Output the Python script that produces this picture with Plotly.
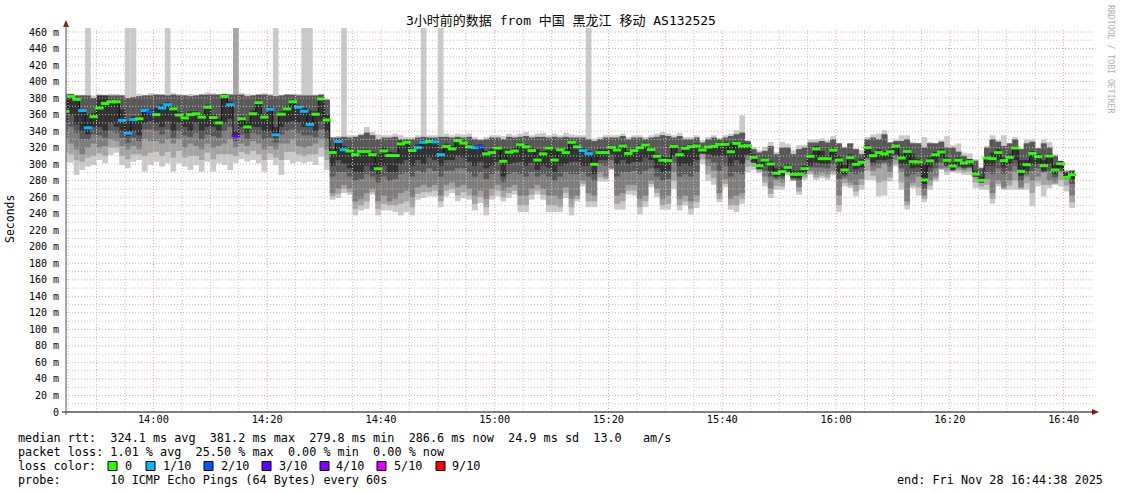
import numpy as np
import pandas as pd
import plotly.graph_objects as go

# ---------------- data (ms), one sample per minute starting 13:44 ----------------
median = [364,382,378.5,365,344,357.5,368,373.5,375.5,375.5,353,337.5,354,355,365,363,360,368,372,367,
          359.5,356,360,361,357,369,356.5,350,382,372,334.5,355,345,361,374.5,357,366.5,335.5,360.5,367,
          375.5,369,364,348,360.5,379,353.5,314,327.5,317.5,316,311.5,315.5,315.5,311.5,294.5,316,310.5,310.5,324.5,
          326.5,316.5,320,326.5,327.5,327,311.5,321.5,318.5,328.5,325.5,321,320,321,312.5,314,319.5,303.5,314.5,316,
          323.5,321,316.5,305,312.5,319.5,305,317.5,314,326.5,321,316.5,312.8,299.8,314,314,320.4,317.2,322,313,
          316.4,320,323.2,317.6,309.5,304.7,304.3,321.6,311.5,319.2,321.2,322,317.2,320.8,321.6,324,324,315,325.2,322,
          322.4,308.3,298.2,305,300.2,289,291,296.2,287.7,287.7,294.6,309.5,318.4,306.7,306.7,317,305,293,307.9,299.8,
          302.3,320,310.3,314,312.5,315,322,307.5,315.5,303,302.7,281,304,311.5,314.7,304.7,297.8,304.7,301.5,303,
          288,280.5,307.5,306.7,314,304.3,308.3,319.6,291.4,299.4,313,309,298.2,309.9,293,300.6,284,287.3]

# lost pings out of 10 per sample
loss = [0,0,0,1,1,0,0,0,0,0,1,1,1,0,1,2,0,1,1,0,
        0,0,0,0,0,0,0,0,0,1,3,0,0,0,0,0,1,1,0,0,
        0,1,1,1,0,0,0,0,1,1,0,0,0,0,0,0,0,0,0,0,
        0,0,1,1,0,1,1,0,0,0,0,0,1,2,0,0,0,0,0,0,
        0,0,0,0,0,0,0,0,0,0,0,1,1,0,0,0,0,0,0,0,
        0,0,0,0,0,0,0,0,0,0,0,0,0,0,0,0,0,0,0,0,
        0,0,0,0,0,0,0,0,0,0,0,0,0,0,0,0,0,0,0,0,
        0,0,0,0,0,0,0,0,0,0,0,0,0,0,0,0,0,0,0,0,
        0,0,0,0,0,0,0,0,0,0,0,0,0,0,0,0,0,0]

# 1st / 10th ping of each sample (490 = off the top of the chart)
ping_min = [303,302,287,293,297,299,305,301,311,314,299,295,303,305,291,299,303,297,301,291,
            301,297,293,299,291,303,291,301,299,293,301,306,303,305,301,291,305,299,287,305,
            301,303,301,303,299,309,293,257,259,265,263,238,244,246,263,238,244,244,242,238,
            242,238,257,259,261,261,248,261,265,255,259,257,244,253,238,257,261,255,259,263,
            242,242,257,263,257,242,242,242,259,238,255,273,248,248,279,279,293,245,245,263,
            262,239,248,272,260,245,245,270,244,250,239,247,300,280,275,254,272,245,242,252,
            290,293,289,273,259,269,269,287,281,263,281,287,281,283,281,287,242,273,271,261,
            269,281,281,261,262,279,297,269,245,271,262,254,269,279,293,287,291,289,287,287,
            271,269,269,252,273,269,269,269,269,269,249,273,261,271,275,273,267,247]
ping_max = [386,385,384,384,490,383,385,384,385,385,384,490,490,385,384,386,385,384,490,386,
            385,384,385,384,385,387,386,385,384,385,490,386,385,384,385,386,385,490,384,385,
            384,385,490,490,384,385,378,333,334,490,335,335,337,345,339,336,335,335,337,335,
            333,333,335,490,335,335,490,337,335,337,336,337,333,331,333,335,335,334,337,335,
            337,339,335,337,338,335,337,335,338,336,335,335,490,331,333,335,335,335,337,333,
            335,335,333,335,337,339,337,335,338,333,333,335,329,333,335,332,335,337,341,359,
            329,321,317,321,327,315,327,325,317,323,323,330,330,331,329,334,325,321,325,319,
            317,333,336,337,341,327,330,335,335,327,326,333,327,325,329,334,323,325,314,313,
            306,297,322,335,329,335,325,333,319,330,330,319,330,327,312,303,293,293]

# 2nd / 9th ping
second_min = [315,312,305,303,308,310,313,310,320,320,310,306,312,312,310,314,315,310,315,308,
              316,308,310,310,305,314,306,312,312,312,310,315,312,316,312,305,313,308,305,315,
              315,312,310,312,312,320,305,261,264,270,266,246,250,255,266,246,252,250,250,252,
              255,248,264,266,266,268,255,268,270,262,266,262,252,260,248,262,268,260,265,268,
              250,250,263,268,263,250,250,248,265,248,258,276,255,255,284,282,294,252,255,268,
              268,248,255,276,265,250,252,280,250,255,246,254,306,288,283,258,276,250,250,258,
              297,297,291,278,264,274,273,289,281,267,284,289,284,286,284,289,250,277,274,267,
              275,292,286,278,280,284,300,278,250,274,272,258,274,282,294,291,291,292,290,291,
              278,273,275,258,276,270,274,280,270,277,265,279,275,275,276,281,274,254]
second_max = [384,385,383,383,383,380,383,383,383,383,383,380,381,382,383,383,384,384,383,384,
              383,383,382,383,384,384,384,384,385,384,490,384,382,383,384,384,383,382,383,384,
              384,383,383,383,383,384,378,332,332,333,332,333,335,338,335,330,332,332,333,330,
              330,330,332,333,332,332,333,333,332,333,332,333,330,329,330,332,332,330,333,332,
              333,334,332,333,333,332,333,332,333,332,332,332,330,328,330,332,332,332,334,330,
              332,332,330,332,333,335,334,332,334,330,330,332,326,330,332,330,332,334,336,338,
              328,318,314,316,322,312,320,320,312,318,320,326,326,328,326,330,325,320,325,318,
              312,330,332,330,336,326,328,328,330,325,325,320,325,325,327,320,320,315,310,306,
              304,295,320,330,327,322,325,330,318,325,327,319,325,320,310,301,291,292]

# 3rd / 8th ping
mid_lo = [330,325,318,312,320,325,320,322,330,328,322,318,322,318,330,328,328,325,330,325,
          330,320,325,322,318,325,320,322,325,330,320,325,322,328,325,318,322,318,325,325,
          330,322,320,322,325,330,318,265,270,275,270,255,258,265,270,255,262,255,258,265,
          268,260,272,275,272,275,262,275,278,272,275,270,262,268,258,270,275,268,272,275,
          262,262,270,275,270,262,262,258,272,258,262,280,265,262,290,285,295,262,265,275,
          275,258,262,280,270,258,262,290,258,262,255,262,312,298,292,265,282,258,262,265,
          305,302,294,285,270,280,278,292,280,272,288,292,288,290,288,292,262,282,278,275,
          282,305,292,295,300,290,305,290,255,278,285,262,280,285,295,295,292,295,293,295,
          285,278,282,265,280,272,280,290,272,285,280,285,290,280,278,290,282,262]
mid_hi = [384,385,383,383,383,380,383,383,383,383,383,380,381,382,383,383,384,384,383,384,
          383,383,382,383,384,384,384,384,385,384,384,384,382,383,384,384,383,382,383,384,
          384,383,383,383,383,384,378,332,332,333,332,333,335,338,335,330,332,332,333,330,
          330,330,332,333,332,332,333,333,332,333,332,333,330,329,330,332,332,330,333,332,
          333,334,332,333,333,332,333,332,333,332,332,332,330,328,330,332,332,332,334,330,
          332,332,330,332,333,335,334,332,334,330,330,332,326,330,332,330,332,334,336,338,
          328,318,314,316,322,312,320,320,312,318,320,326,326,328,326,330,325,320,325,318,
          312,330,332,330,336,326,328,328,330,325,325,320,325,325,327,320,320,315,310,306,
          304,295,320,330,327,322,325,330,318,325,327,319,325,320,310,301,291,292]

# 4th ping (lower edge of the 4th..7th band, upper edge taken as mid_hi)
fourth_min = [340,345,338,330,330,336,335,332,340,338,332,326,332,328,342,342,340,336,342,332,
              340,335,333,338,330,336,334,332,340,345,328,336,330,338,336,330,332,326,336,340,
              342,338,335,335,333,342,330,285,290,290,285,280,282,288,285,278,285,280,282,288,
              290,285,292,290,295,292,285,292,292,295,295,290,285,290,282,288,292,278,288,290,
              288,285,290,285,288,285,280,285,290,288,288,290,285,280,300,298,305,285,290,290,
              292,288,292,295,285,280,282,302,285,288,285,290,313,306,302,292,298,285,290,288,
              310,302,294,292,285,283,283,292,283,280,289,296,296,296,295,300,282,285,290,288,
              290,308,298,300,302,298,310,295,285,288,290,270,290,295,302,298,293,297,295,296,
              285,278,290,288,295,288,292,298,280,288,292,295,290,292,284,292,282,276]

# 5th / 6th ping (darkest core)
core_lo = [350,360,348,340,336,345,345,340,350,345,340,334,340,335,350,352,350,345,352,340,
           350,345,340,350,340,345,345,340,350,355,334,345,338,345,345,340,340,332,345,350,
           352,350,345,345,340,352,340,298,305,300,295,290,290,298,292,288,298,290,290,300,
           305,298,305,300,308,305,298,305,305,310,308,303,298,303,295,298,303,285,300,302,
           303,298,302,293,298,296,290,298,300,303,303,298,298,288,305,305,312,300,305,300,
           303,303,308,305,295,290,292,310,298,300,298,305,313,312,310,310,310,298,305,300,
           312,302,294,298,292,285,286,291,283,283,290,298,302,300,300,305,290,288,298,294,
           296,308,302,305,305,306,312,300,300,295,296,276,296,302,308,298,293,298,296,297,
           285,278,298,298,305,296,300,305,286,292,300,300,292,300,288,295,282,282]
core_hi = [383,384,381,367,360,362,383,383,378,377,366,352,358,358,367,366,368,372,375,370,
           363,360,364,364,360,372,360,355,384,376,340,358,352,365,377,360,370,345,364,370,
           378,372,368,365,364,381,360,318,330,322,320,315,318,318,315,312,320,315,314,328,
           329,320,324,329,330,330,318,325,322,331,328,324,323,324,316,318,322,318,318,320,
           326,324,320,318,316,322,318,320,318,329,324,320,316,312,318,318,323,320,325,316,
           319,323,326,320,312,310,308,324,314,322,324,325,320,323,324,327,327,325,328,325,
           325,312,302,308,304,295,296,300,292,292,298,312,322,316,310,320,310,300,312,304,
           306,323,315,318,316,318,325,312,318,312,306,300,308,315,318,308,302,308,305,306,
           292,285,311,314,318,308,312,322,305,305,316,312,305,313,300,304,290,291]

y_tick_vals = list(range(0, 461, 20))
y_tick_text = ["0"] + [f"{v} m" for v in y_tick_vals[1:]]
x_tick_labels = ["14:00", "14:20", "14:40", "15:00", "15:20", "15:40", "16:00", "16:20", "16:40"]

loss_names = ["0", "1/10", "2/10", "3/10", "4/10", "5/10", "9/10"]
loss_levels = [0, 1, 2, 3, 4, 5, 9]
loss_colors = ["#26ff00", "#00b8ff", "#0059ff", "#5e00ff", "#7e00ff", "#dd00ff", "#ff0000"]

# ---------------- figure ----------------
W, H = 1121, 494
L, R, T, B = 66, 1090, 28, 412
n = len(median)
t0 = pd.Timestamp("2025-11-28 13:44:00")
starts = t0 + pd.to_timedelta(np.arange(n) * 60, unit="s")
centers = starts + pd.Timedelta(seconds=30)
x_start = pd.Timestamp("2025-11-28 13:44:38")
x_end = pd.Timestamp("2025-11-28 16:44:38")
y_top = (B - T) / (380 / 460)

def px_x(p):
    return (p - L) / (R - L)

def px_y(p):
    return (B - p) / (B - T)

mono = "DejaVu Sans Mono, Noto Sans CJK SC, monospace"
fig = go.Figure()

def band(lo, hi, color):
    lo = np.array(lo, float); hi = np.array(hi, float)
    fig.add_trace(go.Bar(x=centers, y=hi - lo, base=lo, width=60000,
                         marker=dict(color=color, line=dict(width=0)),
                         hoverinfo="skip", showlegend=False))

band(ping_min, ping_max, "#cacaca")
band(second_min, second_max, "#a4a4a4")
band(mid_lo, mid_hi, "#7e7e7e")
band(fourth_min, mid_hi, "#585858")
band(core_lo, core_hi, "#323232")

med = np.array(median, float)
step_x = list(starts) + [starts[-1] + pd.Timedelta(seconds=60)]
step_y = list(med) + [med[-1]]
fig.add_trace(go.Scatter(x=step_x, y=step_y, mode="lines", line=dict(color="#111111", width=1, shape="hv"),
                         hoverinfo="skip", showlegend=False))
cmap = dict(zip(loss_levels, loss_colors))
fig.add_trace(go.Scatter(x=centers, y=med, mode="markers",
                         marker=dict(symbol="line-ew", size=6,
                                     line=dict(width=3, color=[cmap[v] for v in loss])),
                         hoverinfo="skip", showlegend=False))

shapes = []
for v in range(10, 461, 10):
    major = v % 20 == 0
    shapes.append(dict(type="line", xref="paper", yref="y", x0=0, x1=1.003, y0=v, y1=v, layer="above",
                       line=dict(color="#f0a0a0" if major else "#c4c4c4", width=1, dash="1px,2px")))
for tt in pd.date_range("2025-11-28 13:45", "2025-11-28 16:40", freq="5min"):
    major = tt.minute % 20 == 0
    shapes.append(dict(type="line", xref="x", yref="paper", x0=tt, x1=tt, y0=0, y1=1, layer="above",
                       line=dict(color="#f0a0a0" if major else "#c4c4c4", width=1, dash="1px,2px")))
ax_col = "#8b1a1a"
shapes.append(dict(type="path", xref="paper", yref="paper", layer="above",
                   path=f"M {px_x(63)} {px_y(27)} L {px_x(66)} {px_y(20)} L {px_x(69)} {px_y(27)} Z",
                   fillcolor=ax_col, line=dict(width=0)))
shapes.append(dict(type="path", xref="paper", yref="paper", layer="above",
                   path=f"M {px_x(1092)} {px_y(409)} L {px_x(1099)} {px_y(412)} L {px_x(1092)} {px_y(415)} Z",
                   fillcolor=ax_col, line=dict(width=0)))
shapes.append(dict(type="line", xref="paper", yref="paper", x0=px_x(62), x1=px_x(1093), y0=0, y1=0,
                   layer="above", line=dict(color="#000000", width=1)))
shapes.append(dict(type="line", xref="paper", yref="paper", x0=0, x1=0, y0=px_y(415), y1=px_y(24),
                   layer="above", line=dict(color="#555555", width=1)))

ann = []
ann.append(dict(text="3小时前的数据 from 中国 黑龙江 移动 AS132525", xref="paper", yref="paper",
                x=px_x(561), y=px_y(21), showarrow=False, xanchor="center", yanchor="middle",
                font=dict(family=mono, size=13, color="#000")))
ann.append(dict(text="Seconds", xref="paper", yref="paper", x=px_x(10), y=px_y(219), showarrow=False,
                textangle=-90, xanchor="center", yanchor="middle", font=dict(family=mono, size=11.5, color="#000")))
ann.append(dict(text="RRDTOOL / TOBI OETIKER", xref="paper", yref="paper", x=px_x(1111), y=px_y(59),
                showarrow=False, textangle=90, xanchor="center", yanchor="middle",
                font=dict(family=mono, size=8.2, color="#b0b0b0")))
lines = [
    (438, "median rtt:  324.1 ms avg  381.2 ms max  279.8 ms min  286.6 ms now  24.9 ms sd  13.0   am/s"),
    (452, "packet loss: 1.01 % avg  25.50 % max  0.00 % min  0.00 % now"),
    (466, "loss color:"),
    (480, "probe:       10 ICMP Echo Pings (64 Bytes) every 60s"),
]
for py, txt in lines:
    ann.append(dict(text=txt.replace(" ", "\u00a0"), xref="paper", yref="paper", x=px_x(16), y=px_y(py),
                    showarrow=False, xanchor="left", yanchor="middle",
                    font=dict(family=mono, size=11.8, color="#000")))
ann.append(dict(text="end: Fri Nov 28 16:44:38 2025".replace(" ", "\u00a0"), xref="paper", yref="paper",
                x=px_x(1105), y=px_y(480), showarrow=False, xanchor="right", yanchor="middle",
                font=dict(family=mono, size=11.8, color="#000")))
box_x = [108, 146, 204, 262, 320, 377, 436]
lab_x = [123, 161, 219, 277, 334, 392, 450]
for bx, lx, name, col in zip(box_x, lab_x, loss_names, loss_colors):
    shapes.append(dict(type="rect", xref="paper", yref="paper", x0=px_x(bx), x1=px_x(bx + 9),
                       y0=px_y(470.5), y1=px_y(461.5), fillcolor=col, line=dict(color="#000", width=1)))
    ann.append(dict(text=name, xref="paper", yref="paper", x=px_x(lx), y=px_y(466), showarrow=False,
                    xanchor="left", yanchor="middle", font=dict(family=mono, size=11.8, color="#000")))

x_tick_vals = [pd.Timestamp("2025-11-28 " + s) for s in x_tick_labels]
fig.update_layout(
    width=W, height=H, margin=dict(l=L, r=W - R, t=T, b=H - B, pad=0, autoexpand=False),
    paper_bgcolor="#ffffff", plot_bgcolor="#ffffff", barmode="overlay", showlegend=False,
    shapes=shapes, annotations=ann,
    xaxis=dict(range=[x_start, x_end], type="date", showgrid=False, zeroline=False, showline=False,
               automargin=False, tickmode="array", tickvals=x_tick_vals, ticktext=x_tick_labels, ticks="",
               tickfont=dict(family=mono, size=10.3, color="#000")),
    yaxis=dict(range=[0, y_top], showgrid=False, zeroline=False, showline=False, automargin=False,
               tickmode="array", tickvals=y_tick_vals, ticktext=y_tick_text, ticks="",
               ticklabelstandoff=6, tickfont=dict(family=mono, size=10, color="#000")),
)
fig.write_html("out.html", config={"displayModeBar": False},
               post_script="document.body.style.margin='0';document.body.style.padding='0';")
